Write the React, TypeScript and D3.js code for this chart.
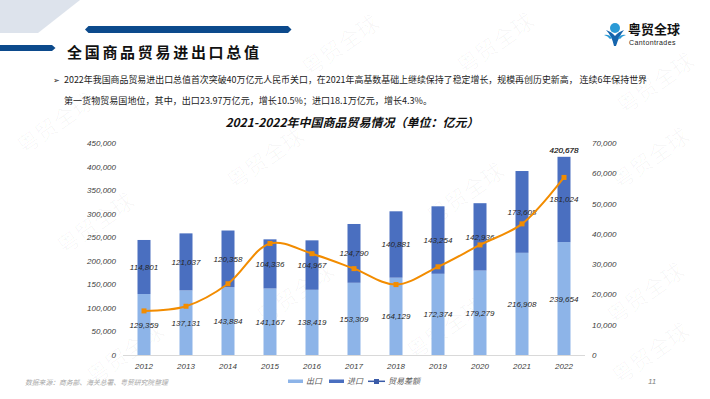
import React from 'react';
import * as d3 from 'd3';

const years = ['2012', '2013', '2014', '2015', '2016', '2017', '2018', '2019', '2020', '2021', '2022'];
const exportsVal = [129359, 137131, 143884, 141167, 138419, 153309, 164129, 172374, 179279, 216908, 239654];
const importsVal = [114801, 121037, 120358, 104336, 104967, 124790, 140881, 143254, 142936, 173608, 181024];
const balanceVal = [14558, 16094, 23526, 36831, 33452, 28519, 23248, 29120, 36343, 43300, 58630];
const leftTicks = [0, 50000, 100000, 150000, 200000, 250000, 300000, 350000, 400000, 450000];
const rightTicks = [0, 10000, 20000, 30000, 40000, 50000, 60000, 70000];
const totalLabel = '420,678';

const watermarks = [
  [345, 52], [500, 50], [660, 90], [60, 130], [270, 165], [470, 200], [655, 165],
  [100, 230], [300, 300], [450, 335], [650, 300], [130, 360], [655, 360],
];

const W = 710;
const H = 399;
const axisFont = '"Liberation Sans", Arial, sans-serif';
const cjkFont = '"Noto Sans CJK SC", "Liberation Sans", sans-serif';

const App = () => {
  const x = d3.scalePoint().domain(years).range([123, 585]).padding(0.5);
  const yL = d3.scaleLinear().domain([0, 450000]).range([355, 143]);
  const yR = d3.scaleLinear().domain([0, 70000]).range([355, 143]);
  const fmt = d3.format(',');
  const bw = 13;

  const line = d3
    .line()
    .x((d, i) => x(years[i]))
    .y(d => yR(d))
    .curve(d3.curveCatmullRom.alpha(0.5));

  return (
    <svg width={W} height={H} style={{ position: 'absolute', left: 0, top: 0, background: '#fff' }}>
      {/* header decoration */}
      <polygon points="0,0 80,0 38,33 0,33" fill="#dde3ec" />
      <polygon points="85,29.5 88.5,26 288,26 291.5,29.5 288,33 88.5,33" fill="#0c4a8c" />
      <polygon points="0,45 52,45 55.5,48 52,51 0,51" fill="#0c4a8c" />
      <text x={67} y={58} fontFamily={cjkFont} fontWeight="bold" fontSize={15} letterSpacing={2.7} fill="#111">
        全国商品贸易进出口总值
      </text>

      {/* logo */}
      <g transform="translate(604,20)">
        <circle cx={11} cy={8} r={5} fill="#2a9ad6" />
        <path d="M2,10 Q8,12 11,16 Q14,12 20,10 Q15,16 12,26 L10,26 Q8,16 2,10 Z" fill="#1665ad" />
        <path d="M0,15 Q5,14 8,18 L6,19 Q4,16 0,15 Z" fill="#2a9ad6" />
        <path d="M22,15 Q17,14 14,18 L16,19 Q18,16 22,15 Z" fill="#2a9ad6" />
      </g>
      <text x={628} y={34} fontFamily={cjkFont} fontWeight="bold" fontSize={13} fill="#111">粤贸全球</text>
      <text x={629} y={45} fontFamily={axisFont} fontSize={7} letterSpacing={0.4} fill="#222">Cantontrades</text>

      {/* bullet text */}
      <text x={53} y={83} fontFamily={cjkFont} fontSize={8} fill="#222">➢</text>
      <text x={64} y={83} fontFamily={cjkFont} fontSize={9} fill="#222" textLength={583} lengthAdjust="spacingAndGlyphs">
        2022年我国商品贸易进出口总值首次突破40万亿元人民币关口，在2021年高基数基础上继续保持了稳定增长，规模再创历史新高， 连续6年保持世界
      </text>
      <text x={64} y={104} fontFamily={cjkFont} fontSize={9} fill="#222" textLength={368} lengthAdjust="spacingAndGlyphs">
        第一货物贸易国地位，其中，出口23.97万亿元，增长10.5%；进口18.1万亿元，增长4.3%。
      </text>

      {/* watermarks */}
      {watermarks.map(([wx, wy], i) => (
        <text
          key={i}
          x={wx}
          y={wy}
          transform={`rotate(-35 ${wx} ${wy})`}
          textAnchor="middle"
          fontFamily={cjkFont}
          fontSize={22}
          fill="#000"
          fillOpacity={0.03}
        >
          粤贸全球
        </text>
      ))}

      {/* chart title */}
      <text x={352} y={127} textAnchor="middle" fontFamily={cjkFont} fontWeight="bold" fontStyle="italic" fontSize={12} fill="#111">
        2021-2022年中国商品贸易情况（单位：亿元）
      </text>

      {/* left axis */}
      {leftTicks.map(t => (
        <text key={t} x={116} y={yL(t) + 3} textAnchor="end" fontFamily={axisFont} fontStyle="italic" fontSize={8} fill="#404040">
          {fmt(t)}
        </text>
      ))}
      {/* right axis */}
      {rightTicks.map(t => (
        <text key={t} x={592} y={yR(t) + 3} fontFamily={axisFont} fontStyle="italic" fontSize={8} fill="#404040">
          {fmt(t)}
        </text>
      ))}

      {/* bars */}
      {years.map((yr, i) => {
        const cx = x(yr);
        const e = exportsVal[i];
        const m = importsVal[i];
        return (
          <g key={yr}>
            <rect x={cx - bw / 2} y={yL(e)} width={bw} height={yL(0) - yL(e)} fill="#8db4e8" />
            <rect x={cx - bw / 2} y={yL(e + m)} width={bw} height={yL(e) - yL(e + m)} fill="#4a6fc0" />
            <text x={cx} y={(yL(0) + yL(e)) / 2 + 3} textAnchor="middle" fontFamily={axisFont} fontStyle="italic" fontSize={8} fill="#262626">
              {fmt(e)}
            </text>
            <text x={cx} y={(yL(e) + yL(e + m)) / 2 + 3} textAnchor="middle" fontFamily={axisFont} fontStyle="italic" fontSize={8} fill="#262626">
              {fmt(m)}
            </text>
            <text x={cx} y={369} textAnchor="middle" fontFamily={axisFont} fontStyle="italic" fontSize={8} fill="#404040">
              {yr}
            </text>
          </g>
        );
      })}
      <text
        x={x('2022')}
        y={yL(exportsVal[10] + importsVal[10]) - 4}
        textAnchor="middle"
        fontFamily={axisFont}
        fontStyle="italic"
        fontSize={8}
        fill="#111"
        stroke="#111"
        strokeWidth={0.2}
      >
        {totalLabel}
      </text>

      {/* baseline */}
      <line x1={123} x2={585} y1={355.5} y2={355.5} stroke="#d9d9d9" strokeWidth={1} />

      {/* balance line */}
      <path d={line(balanceVal)} fill="none" stroke="#f28c00" strokeWidth={2} />
      {balanceVal.map((v, i) => (
        <rect key={i} x={x(years[i]) - 2.5} y={yR(v) - 2.5} width={5} height={5} fill="#f28c00" />
      ))}

      {/* legend */}
      <rect x={288} y={379.5} width={15} height={3.5} fill="#8db4e8" />
      <text x={306} y={384} fontFamily={cjkFont} fontStyle="italic" fontSize={8} fill="#595959">出口</text>
      <rect x={329} y={379.5} width={15} height={3.5} fill="#4a6fc0" />
      <text x={347} y={384} fontFamily={cjkFont} fontStyle="italic" fontSize={8} fill="#595959">进口</text>
      <line x1={368} x2={385} y1={381.3} y2={381.3} stroke="#3a5ba8" strokeWidth={1.5} />
      <rect x={374} y={379} width={5} height={5} fill="#3a5ba8" />
      <text x={388} y={384} fontFamily={cjkFont} fontStyle="italic" fontSize={8} fill="#595959">贸易差额</text>

      {/* footer */}
      <text x={25} y={385} fontFamily={cjkFont} fontStyle="italic" fontSize={6.8} fill="#a6a6a6">
        数据来源：商务部、海关总署、粤贸研究院整理
      </text>
      <text x={648} y={384} fontFamily={axisFont} fontStyle="italic" fontSize={8} fill="#7f7f7f">11</text>
    </svg>
  );
};

export default App;
